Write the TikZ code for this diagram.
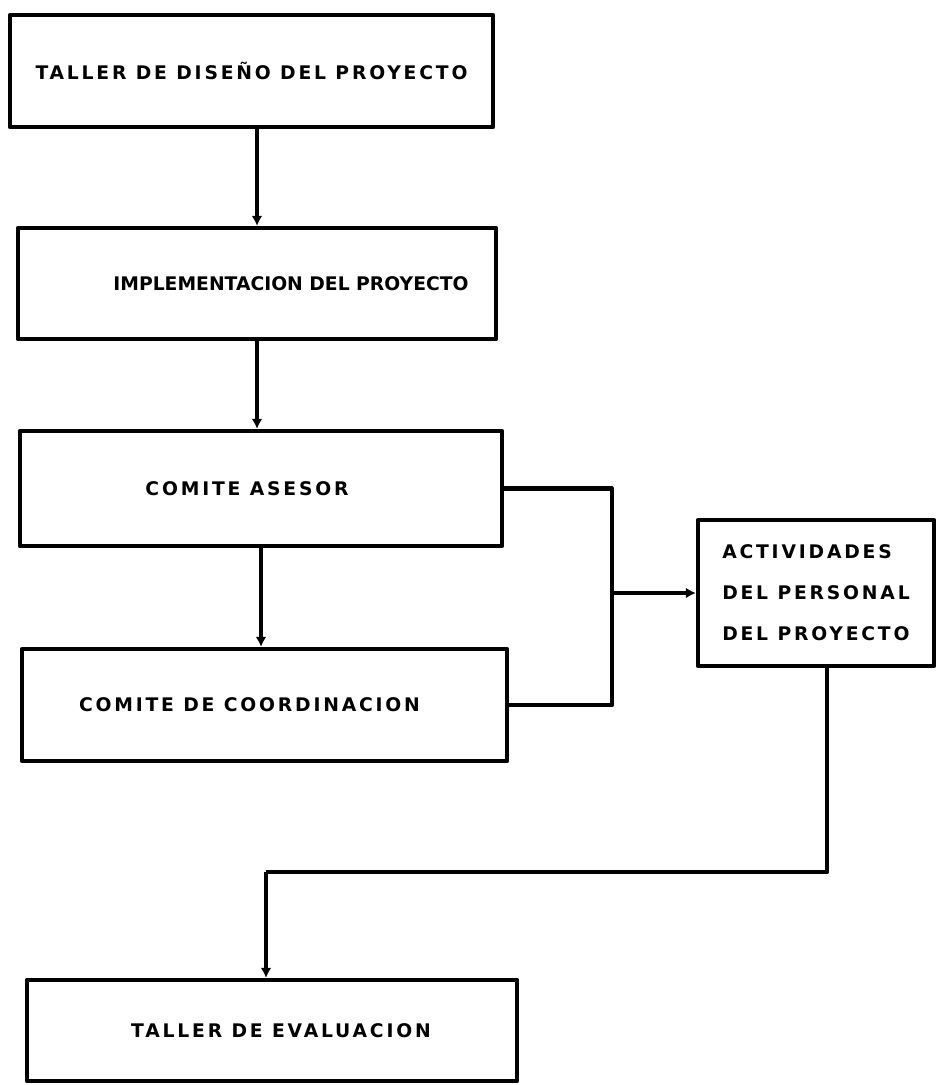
\documentclass[tikz,border=0pt]{standalone}
\usepackage{fontspec}
\newfontfamily\stagefont[LetterSpace=15]{DejaVu Sans}
\newfontfamily\tightfont[LetterSpace=0]{DejaVu Sans}
\usetikzlibrary{arrows.meta,positioning}

\tikzset{
    stage/.style={draw, line width=3.6pt, line join=round, inner sep=0pt,
        font=\stagefont\bfseries\fontsize{16}{35}\selectfont},
    link/.style={line width=3.6pt, line join=round},
    flow/.style={link, -{Latex[length=3mm,width=3.2mm]}},
}

\begin{document}
\begin{tikzpicture}[x=0.03cm, y=-0.03cm]
    \useasboundingbox (0,0) rectangle (936,1085);

    % Stages
    \node[stage, minimum width=14.49cm, minimum height=3.36cm] (diseno) at (251.5,71) {TALLER DE DISEÑO DEL PROYECTO};
    \node[stage, minimum width=14.34cm, minimum height=3.33cm] (implem) at (257,283.5) {\hspace*{2.04cm}\tightfont\bfseries IMPLEMENTACION DEL PROYECTO};
    \node[stage, minimum width=14.46cm, minimum height=3.45cm] (asesor) at (261,488.5) {COMITE ASESOR\hspace*{0.84cm}};
    \node[stage, minimum width=14.55cm, minimum height=3.36cm] (coord) at (264.5,705) {COMITE DE COORDINACION\hspace*{0.9cm}};
    \node[stage, minimum width=7.08cm, minimum height=4.38cm, align=left] (personal) at (816,593) {ACTIVIDADES\\DEL PERSONAL\\DEL PROYECTO};
    \node[stage, minimum width=14.7cm, minimum height=3.03cm] (evaluacion) at (272,1030.5) {\hspace*{0.54cm}TALLER DE EVALUACION};

    % Junctions
    \coordinate (split) at (612,593);
    \coordinate (turn) at (827,872);
    \coordinate (drop) at (266,872);

    % Connections
    \draw[flow] (implem.north |- diseno.south) -- (implem.north);
    \draw[flow] (implem.south) -- (implem.south |- asesor.north);
    \draw[flow] (asesor.south) -- (asesor.south |- coord.north);

    \draw[link] (asesor.east) -- (asesor.east -| split) -- (coord.east -| split) -- (coord.east);
    \draw[flow] (split) -- (personal.west);

    \draw[link] (turn |- personal.south) -- (turn) -- (drop);
    \draw[flow] (drop) -- (drop |- evaluacion.north);
\end{tikzpicture}
\end{document}
